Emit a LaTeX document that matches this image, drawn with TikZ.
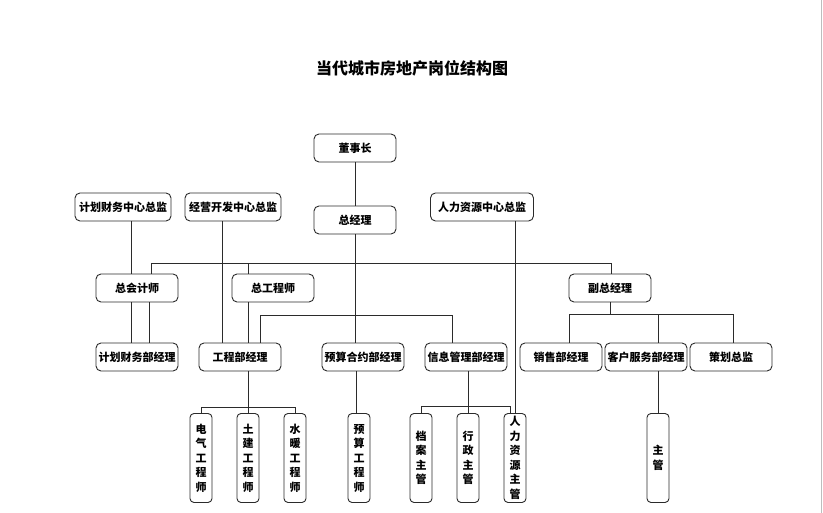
\documentclass[tikz,border=0pt]{standalone}
\usepackage{fontspec}
\setmainfont{Noto Sans CJK SC}
\usetikzlibrary{positioning}
\definecolor{lineGray}{HTML}{2B2B2B}
\definecolor{edgeGray}{HTML}{BDBDBD}

\begin{document}
\begin{tikzpicture}[
  x=1pt, y=1pt,
  post/.style={
    draw=lineGray,
    fill=white,
    rounded corners=5pt,
    line width=0.9pt,
    minimum width=82pt,
    minimum height=28pt,
    inner xsep=2pt,
    font=\bfseries\fontsize{11}{12}\selectfont
  },
  vpost/.style={
    draw=lineGray,
    fill=white,
    rounded corners=4pt,
    line width=0.9pt,
    minimum width=22pt,
    minimum height=89pt,
    inner sep=1pt,
    align=center,
    font=\bfseries\fontsize{11}{14.5}\selectfont
  },
  link/.style={
    draw=lineGray,
    line width=0.8pt
  }
]

\useasboundingbox[fill=white] (0,0) rectangle (823,513);
\draw[edgeGray, line width=1pt] (821,0) -- (821,513);

\node[font=\bfseries\fontsize{16}{18}\selectfont] (title) at (412,445) {当代城市房地产岗位结构图};

% top levels
\node[post] (dsz) at (355,365) {董事长};
\node[post] (zjl) at (355,293) {总经理};
\node[post, minimum width=96pt] (jhzj) at (123,306) {计划财务中心总监};
\node[post, minimum width=96pt] (jyzj) at (233,306) {经营开发中心总监};
\node[post, minimum width=103pt] (rlzj) at (482,306) {人力资源中心总监};

\node[post] (zkj) at (137,225) {总会计师};
\node[post] (zgs) at (273,225) {总工程师};
\node[post] (fzjl) at (610,225) {副总经理};

% departments
\node[post] (jhb) at (137,156) {计划财务部经理};
\node[post] (gcb) at (240,156) {工程部经理};
\node[post] (ysb) at (363,156) {预算合约部经理};
\node[post] (xxb) at (466,156) {信息管理部经理};
\node[post] (xsb) at (561,156) {销售部经理};
\node[post] (khb) at (646,156) {客户服务部经理};
\node[post] (chzj) at (731,156) {策划总监};

% staff
\node[vpost] (dq) at (201,55) {电\\气\\工\\程\\师};
\node[vpost] (tj) at (248,55) {土\\建\\工\\程\\师};
\node[vpost] (sn) at (295,55) {水\\暖\\工\\程\\师};
\node[vpost] (ysgc) at (359,55) {预\\算\\工\\程\\师};
\node[vpost] (da) at (421,55) {档\\案\\主\\管};
\node[vpost] (xz) at (468,55) {行\\政\\主\\管};
\node[vpost] (rlzg) at (515,55) {人\\力\\资\\源\\主\\管};
\node[vpost] (zg) at (658,55) {主\\管};

% connectors
\draw[link] (dsz) -- (zjl);
\draw[link] (zjl.south) -- (zjl.south |- ysb.north);
\draw[link] ([xshift=14pt]zkj.north) -- ++(0,10) -| ([xshift=1pt]fzjl.north);
\draw[link] ([xshift=-25pt]zgs.north) -- ++(0,10);
\draw[link] ([xshift=-6pt]zkj.north |- jhzj.south) -- ([xshift=-6pt]zkj.north);
\draw[link] ([xshift=-6pt]zkj.south) -- ([xshift=-6pt]zkj.south |- jhb.north);
\draw[link] ([xshift=12pt]zkj.south) -- ([xshift=12pt]zkj.south |- jhb.north);
\draw[link] ([xshift=-18pt]gcb.north |- jyzj.south) -- ([xshift=-18pt]gcb.north);
\draw[link] ([xshift=-25pt]zgs.south) -- ([xshift=-25pt]zgs.south |- gcb.north);
\draw[link] ([xshift=20pt]gcb.north) -- ++(0,27) -| ([xshift=-14pt]xxb.north);
\draw[link] (rlzj.south -| rlzg.north) -- (rlzg.north);

\draw[link] (fzjl.south) -- ++(0,-12) coordinate (b3);
\draw[link] ([xshift=8pt]xsb.north) |- (b3) -| ([xshift=2pt]chzj.north);
\draw[link] ([xshift=12pt]khb.north) -- ([xshift=12pt]khb.north |- b3);
\draw[link] ([xshift=12pt]khb.south) -- ([xshift=12pt]khb.south |- zg.north);

\draw[link] (tj.north |- gcb.south) -- (tj.north);
\draw[link] (dq.north) -- ++(0,6) -| (sn.north);
\draw[link] ([xshift=-7pt]ysb.south) -- ([xshift=-7pt]ysb.south |- ysgc.north);
\draw[link] (xz.north |- xxb.south) -- (xz.north);
\draw[link] (da.north) -- ++(0,7) -| ([xshift=-5pt]rlzg.north);

\end{tikzpicture}
\end{document}
